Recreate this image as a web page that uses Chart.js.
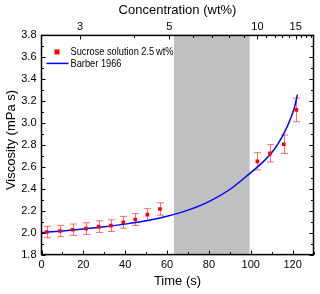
<!DOCTYPE html>
<html>
<head>
<meta charset="utf-8">
<script src="https://cdn.jsdelivr.net/npm/chart.js@4.4.1/dist/chart.umd.min.js"></script>
<style>
  html, body { margin: 0; padding: 0; background: #fff; }
</style>
</head>
<body>
<canvas id="chart" width="320" height="294"></canvas>
<script>
// measured points (Time s / viscosity mPa s / error)
const sampleTime = [2.5, 8.8, 14.9, 21.3, 27.3, 33.2, 39.1, 44.8, 50.6, 56.6, 103.2, 109.2, 115.8, 121.8];
const sampleVisc = [2.006, 2.015, 2.027, 2.037, 2.055, 2.064, 2.095, 2.12, 2.164, 2.216, 2.651, 2.724, 2.807, 3.12];
const sampleErr  = [0.052, 0.052, 0.052, 0.053, 0.053, 0.053, 0.054, 0.054, 0.055, 0.056, 0.079, 0.079, 0.084, 0.108];

// Barber 1966 curve
const barberTime = [0, 10, 20, 30, 40, 50, 60, 70, 80, 90, 100, 105, 110, 113, 116, 119, 121, 122.3];
const barberVisc = [2.0, 2.016, 2.034, 2.054, 2.078, 2.108, 2.15, 2.206, 2.284, 2.394, 2.548, 2.63, 2.73, 2.81, 2.91, 3.04, 3.15, 3.26];

// shaded interval (s)
const bandStart = 63.3;
const bandEnd = 99.5;

// axes
const timeTicks = [0, 20, 40, 60, 80, 100, 120];
const viscTicks = [1.8, 2.0, 2.2, 2.4, 2.6, 2.8, 3.0, 3.2, 3.4, 3.6, 3.8];
const concLabels = ['3', '5', '10', '15'];
const concTimes = [18.4, 61.1, 103.2, 121.5];
const concMinorTimes = [44.2, 72.2, 81.5, 89.6, 96.8, 107.5, 111.4, 115.0, 118.4, 124.1, 126.5, 128.8];

const FONT = "'Liberation Sans', Arial, sans-serif";
Chart.defaults.font.family = FONT;
Chart.defaults.color = '#000';

const band = {
  id: 'band',
  beforeDatasetsDraw(chart) {
    const { ctx, chartArea: a, scales: { x, y } } = chart;
    ctx.save();
    ctx.fillStyle = '#c0c0c0';
    const x1 = x.getPixelForValue(bandStart), x2 = x.getPixelForValue(bandEnd);
    ctx.fillRect(x1, a.top, x2 - x1, a.bottom - a.top);

    // error bars
    ctx.strokeStyle = 'rgba(255,60,60,0.75)';
    ctx.lineWidth = 1;
    sampleTime.forEach((t, i) => {
      const px = Math.round(x.getPixelForValue(t)) + 0.5;
      const lo = y.getPixelForValue(sampleVisc[i] - sampleErr[i]);
      const hi = y.getPixelForValue(sampleVisc[i] + sampleErr[i]);
      ctx.beginPath();
      ctx.moveTo(px, lo); ctx.lineTo(px, hi);
      ctx.moveTo(px - 3.5, lo); ctx.lineTo(px + 3.5, lo);
      ctx.moveTo(px - 3.5, hi); ctx.lineTo(px + 3.5, hi);
      ctx.stroke();
    });
    ctx.restore();
  }
};

const frame = {
  id: 'frame',
  afterDraw(chart) {
    const { ctx, chartArea: a, scales: { x, y } } = chart;
    ctx.save();
    ctx.strokeStyle = '#000';
    ctx.lineWidth = 1;
    const line = (x1, y1, x2, y2) => { ctx.beginPath(); ctx.moveTo(x1, y1); ctx.lineTo(x2, y2); ctx.stroke(); };

    for (let i = 0; i <= 20; i++) {
      const py = Math.round(y.getPixelForValue(1.8 + i * 0.1)) + 0.5;
      const len = i % 2 === 0 ? 4 : 2.5;
      line(a.left, py, a.left + len, py);
      line(a.right, py, a.right - len, py);
    }
    for (let i = 0; i <= 13; i++) {
      const px = Math.round(x.getPixelForValue(i * 10)) + 0.5;
      line(px, a.bottom, px, a.bottom - (i % 2 === 0 ? 4 : 2.5));
    }
    concTimes.forEach(t => {
      const px = Math.round(x.getPixelForValue(t)) + 0.5;
      line(px, a.top, px, a.top + 4);
    });
    concMinorTimes.forEach(t => {
      const px = Math.round(x.getPixelForValue(t)) + 0.5;
      line(px, a.top, px, a.top + 2.5);
    });

    ctx.lineWidth = 1.5;
    ctx.strokeRect(a.left, a.top, a.right - a.left, a.bottom - a.top);

    // legend
    ctx.font = '11px ' + FONT;
    ctx.textBaseline = 'middle';
    ctx.fillStyle = '#ff0000';
    ctx.fillRect(a.left + 13, a.top + 14, 5, 5);
    ctx.fillStyle = '#000';
    ctx.fillText('Sucrose solution 2.5\u2009wt%', a.left + 29, a.top + 17, 103);
    ctx.strokeStyle = '#0000ff';
    ctx.lineWidth = 1.5;
    line(a.left + 5, a.top + 28, a.left + 27, a.top + 28);
    ctx.fillText('Barber 1966', a.left + 29, a.top + 28.5, 51);

    // y axis title
    ctx.font = '13px ' + FONT;
    ctx.textAlign = 'center';
    ctx.translate(11.5, 140);
    ctx.rotate(-Math.PI / 2);
    ctx.fillText('Viscosity (mPa s)', 0, 0);
    ctx.restore();
  }
};

new Chart(document.getElementById('chart'), {
  type: 'scatter',
  data: {
    datasets: [
      {
        label: 'Sucrose solution 2.5 wt%',
        data: sampleTime.map((t, i) => ({ x: t, y: sampleVisc[i] })),
        pointStyle: 'rect',
        pointRadius: 2.6,
        backgroundColor: '#ff0000',
        borderWidth: 0,
        order: 0
      },
      {
        label: 'Barber 1966',
        type: 'line',
        data: barberTime.map((t, i) => ({ x: t, y: barberVisc[i] })),
        borderColor: '#0000ff',
        borderWidth: 1.5,
        pointRadius: 0,
        cubicInterpolationMode: 'monotone',
        fill: false,
        order: 1
      }
    ]
  },
  options: {
    responsive: false,
    animation: false,
    layout: { padding: { left: 0, right: 6.5, top: 0, bottom: 0 } },
    plugins: { legend: { display: false }, tooltip: { enabled: false } },
    scales: {
      x: {
        type: 'linear', position: 'bottom', min: 0, max: 130,
        afterBuildTicks: s => { s.ticks = timeTicks.map(v => ({ value: v })); },
        afterFit: s => { s.height = 39.4; },
        grid: { display: false, drawTicks: false },
        border: { display: false },
        ticks: { padding: 4, font: { size: 11 }, maxRotation: 0, autoSkip: false },
        title: { display: true, text: 'Time (s)', font: { size: 13 }, padding: { top: 0, bottom: 5 } }
      },
      x2: {
        type: 'linear', position: 'top', min: 0, max: 130,
        afterBuildTicks: s => { s.ticks = concTimes.map(v => ({ value: v })); },
        afterFit: s => { s.height = 35.4; },
        grid: { display: false, drawTicks: false },
        border: { display: false },
        ticks: { padding: 2, font: { size: 11 }, maxRotation: 0, autoSkip: false,
                 callback: (v, i) => concLabels[i] },
        title: { display: true, text: 'Concentration (wt%)', font: { size: 13 }, padding: { top: 3, bottom: 0 } }
      },
      y: {
        type: 'linear', min: 1.8, max: 3.8,
        afterBuildTicks: s => { s.ticks = viscTicks.map(v => ({ value: v })); },
        afterFit: s => { s.width = 41.5; },
        grid: { display: false, drawTicks: false },
        border: { display: false },
        ticks: { padding: 5, font: { size: 11 }, callback: v => v.toFixed(1) },
        title: { display: false }
      }
    }
  },
  plugins: [band, frame]
});
</script>
</body>
</html>
